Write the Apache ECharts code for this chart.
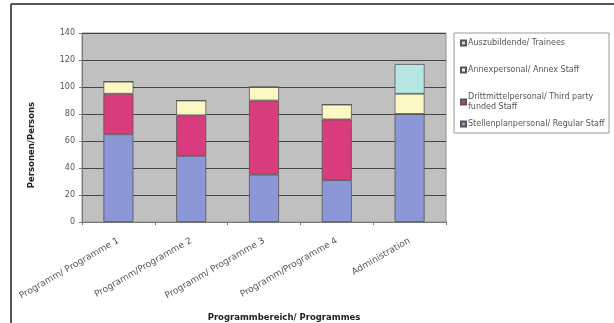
<!DOCTYPE html>
<html>
<head>
<meta charset="utf-8">
<script src="https://cdn.jsdelivr.net/npm/echarts@6/dist/echarts.min.js"></script>
<style>
  html, body { margin: 0; padding: 0; background: #fff; }
  #chart { width: 614px; height: 323px; }
</style>
</head>
<body>
<div id="chart"></div>
<script>
const programmes = ['Programm/ Programme 1', 'Programm/Programme 2', 'Programm/ Programme 3', 'Programm/Programme 4', 'Administration'];
const regularStaff = [65, 49, 35, 31, 80];
const thirdPartyStaff = [30, 30, 55, 45, 0];
const annexStaff = [9, 11, 10, 11, 15];
const trainees = [0, 0, 0, 0, 22];
const yTicks = [0, 20, 40, 60, 80, 100, 120, 140];

const seriesNames = [
  'Stellenplanpersonal/ Regular Staff',
  'Drittmittelpersonal/ Third party funded Staff',
  'Annexpersonal/ Annex Staff',
  'Auszubildende/ Trainees'
];
const colors = ['#8b97d6', '#d83c7c', '#fbf8c4', '#b6e6e4'];
const values = [regularStaff, thirdPartyStaff, annexStaff, trainees];

// legend rows, top to bottom
const legendTops = [119, 92, 65, 38];

const font = 'DejaVu Sans, Verdana, sans-serif';
const chart = echarts.init(document.getElementById('chart'));

chart.setOption({
  animation: false,
  textStyle: { fontFamily: font },
  grid: {
    left: 82, right: 168, top: 33, bottom: 101,
    outerBoundsMode: 'none', containLabel: false,
    show: true, backgroundColor: '#c0c0c0', borderColor: '#909090', borderWidth: 1
  },
  graphic: [
    { type: 'line', shape: { x1: 11, y1: 4, x2: 614, y2: 4 }, style: { stroke: '#555', lineWidth: 2 } },
    { type: 'line', shape: { x1: 11, y1: 4, x2: 11, y2: 323 }, style: { stroke: '#555', lineWidth: 2 } },
    { type: 'rect', shape: { x: 454, y: 33, width: 155, height: 100 }, style: { fill: 'none', stroke: '#999', lineWidth: 1 } }
  ],
  legend: seriesNames.map((name, i) => ({
    orient: 'vertical',
    left: 460, top: legendTops[i],
    padding: 0,
    itemWidth: 5, itemHeight: 5,
    icon: 'rect',
    data: [name],
    formatter: n => n === seriesNames[1] ? 'Drittmittelpersonal/ Third party\nfunded Staff' : n,
    textStyle: { fontFamily: font, fontSize: 8, color: '#555', padding: [0, 0, 0, -3], lineHeight: 10 }
  })),
  xAxis: {
    type: 'category',
    data: programmes,
    name: 'Programmbereich/ Programmes',
    nameLocation: 'middle', nameGap: 91,
    nameTextStyle: { fontFamily: font, fontSize: 8.5, fontWeight: 'bold', color: '#222', padding: [0, 0, 0, 40] },
    axisLine: { lineStyle: { color: '#777' } },
    axisTick: { show: true, inside: false, length: 3, lineStyle: { color: '#777' } },
    axisLabel: { rotate: 30, fontSize: 9, color: '#555', margin: 18 },
    splitLine: { show: false }
  },
  yAxis: {
    type: 'value',
    min: 0, max: 140, interval: 20,
    name: 'Personen/Persons',
    nameLocation: 'middle', nameGap: 46,
    nameTextStyle: { fontFamily: font, fontSize: 8.5, fontWeight: 'bold', color: '#222', padding: [0, 35, 0, 0] },
    axisLine: { show: true, lineStyle: { color: '#777' } },
    axisTick: { show: true, length: 3, lineStyle: { color: '#777' } },
    axisLabel: { fontSize: 8, color: '#555', margin: 7, formatter: v => yTicks.includes(v) ? String(v) : '' },
    splitLine: { lineStyle: { color: '#444', width: 1 } }
  },
  series: seriesNames.map((name, i) => ({
    name: name,
    type: 'bar',
    stack: 'total',
    barWidth: 30,
    data: values[i],
    itemStyle: { color: colors[i], borderColor: '#555', borderWidth: 0.8 }
  }))
});
</script>
</body>
</html>
